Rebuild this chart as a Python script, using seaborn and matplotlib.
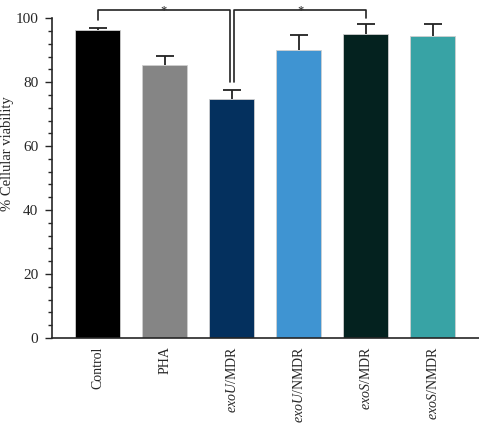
import numpy as np
import pandas as pd
import matplotlib
matplotlib.use('Agg')
import matplotlib.pyplot as plt
import seaborn as sns
from matplotlib.ticker import MultipleLocator

# Data
groups = ['Control', 'PHA', 'exoU/MDR', 'exoU/NMDR', 'exoS/MDR', 'exoS/NMDR']
tick_labels = ['Control', 'PHA', r'$\mathit{exoU}$/MDR', r'$\mathit{exoU}$/NMDR',
               r'$\mathit{exoS}$/MDR', r'$\mathit{exoS}$/NMDR']
viability = [96.2, 85.5, 74.6, 90.2, 94.9, 94.4]
sd = [0.8, 2.7, 3.1, 4.6, 3.2, 3.8]
colors = ['#000000', '#858585', '#04305e', '#3f94d2', '#04221f', '#38a3a5']

sns.set_style('ticks')
plt.rcParams['font.family'] = ['Liberation Serif', 'DejaVu Serif']
plt.rcParams['mathtext.fontset'] = 'custom'
plt.rcParams['mathtext.it'] = 'Liberation Serif:italic'
plt.rcParams['mathtext.rm'] = 'Liberation Serif'

df = pd.DataFrame({'group': groups, 'viability': viability})

fig = plt.figure(figsize=(4.79, 4.23), dpi=100)
ax = fig.add_axes([0.1086, 0.201, 0.8914, 0.756])

sns.barplot(data=df, x='group', y='viability', hue='group', palette=colors,
            order=groups, width=0.67, edgecolor='#cfcfcf', linewidth=0.6,
            saturation=1, legend=False, errorbar=None, ax=ax)

# upper error bars only
x = np.arange(len(groups))
eb = ax.errorbar(x, viability, yerr=[np.zeros(len(sd)), sd], fmt='none',
                 ecolor='#222222', elinewidth=1.3, capsize=6.5, capthick=1.3)
eb[1][0].set_visible(False)

ax.set_xlim(-0.68, 5.69)
ax.set_ylim(0, 100)
ax.yaxis.set_major_locator(MultipleLocator(20))
ax.yaxis.set_minor_locator(MultipleLocator(4))
ax.tick_params(axis='y', which='major', length=5, width=1, labelsize=11, pad=5)
ax.tick_params(axis='y', which='minor', length=3, width=1)
ax.tick_params(axis='x', length=0, labelsize=10, pad=6)
ax.set_xticks(x)
ax.set_xticklabels(tick_labels, rotation=90)
ax.set_xlabel('')
ax.set_ylabel('% Cellular viability', fontsize=10.5)
ax.yaxis.set_label_coords(-0.088, 0.578)
sns.despine(ax=ax)
for s in ['left', 'bottom']:
    ax.spines[s].set_linewidth(1.2)

# Significance brackets
kw = dict(color='#222222', lw=1.2, clip_on=False)
ax.plot([0, 0, 1.98, 1.98], [99.4, 102.5, 102.5, 80.0], **kw)
ax.plot([2.04, 2.04, 4.0, 4.0], [80.0, 102.5, 102.5, 100.0], **kw)
ax.text(0.99, 101.6, '*', ha='center', va='baseline', fontsize=9, clip_on=False)
ax.text(3.02, 101.6, '*', ha='center', va='baseline', fontsize=9, clip_on=False)

fig.savefig('out.png', dpi=100)
